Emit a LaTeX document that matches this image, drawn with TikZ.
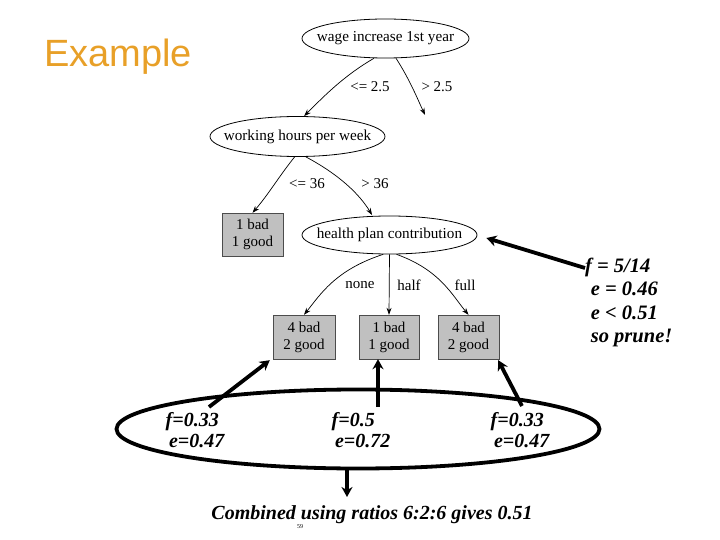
\documentclass[tikz,border=0pt]{standalone}
\usepackage{fontspec}
\setmainfont{Liberation Serif}
\newfontfamily\titlefont{Liberation Sans}
\usetikzlibrary{shapes.geometric,arrows.meta}
\definecolor{titleorange}{RGB}{232,160,40}
\definecolor{leafgray}{RGB}{192,192,192}
\begin{document}
\begin{tikzpicture}[x=1pt,y=-1pt,
  treenode/.style={ellipse,draw,line width=0.8pt,inner xsep=-14pt,inner ysep=0pt,font=\fontsize{15.2}{17}\selectfont},
  leaf/.style={rectangle,draw=black!70,fill=leafgray,thin,inner sep=0pt,align=center,font=\fontsize{15}{17}\selectfont},
  edge/.style={-{Stealth[length=7pt,width=5pt]},line width=0.7pt},
  elabel/.style={font=\fontsize{15}{17}\selectfont},
  note/.style={font=\fontsize{20}{21}\selectfont\bfseries\itshape},
  thick arrow/.style={line width=3.8pt,-{Stealth[length=10pt,width=11pt]}}]
\useasboundingbox (0,0) rectangle (720,540);
\node[anchor=base west,font=\titlefont\fontsize{38}{40}\selectfont,text=titleorange,inner sep=0pt] (title) at (44,67) {Example};

\node[treenode,minimum width=167pt,minimum height=39pt] (wage) at (385.5,38.5) {wage increase 1st year};
\node[treenode,minimum width=175pt,minimum height=40pt] (hours) at (297.5,136.5) {working hours per week};
\node[treenode,minimum width=175pt,minimum height=38pt] (health) at (389.5,235) {health plan contribution};
\node[leaf,minimum width=61pt,minimum height=43pt] (l1) at (252.5,234.5) {1 bad\\1 good};
\node[leaf,minimum width=62pt,minimum height=44pt] (l2) at (304,337) {4 bad\\2 good};
\node[leaf,minimum width=60pt,minimum height=44pt] (l3) at (389,337) {1 bad\\1 good};
\node[leaf,minimum width=61pt,minimum height=44pt] (l4) at (468.5,337) {4 bad\\2 good};
\coordinate (free) at (425,115);

\draw[edge] (wage.240) .. controls (345,75) and (325,95) .. (hours.72);
\draw[edge] (wage.298) .. controls (410,80) and (418,100) .. (free);
\draw[edge] (hours.262) .. controls (280,175) and (268,195) .. (l1.north);
\draw[edge] (hours.292) .. controls (340,175) and (360,195) .. (372,215);
\draw[edge] (health.252) .. controls (335,270) and (320,295) .. (l2.north);
\draw[edge] (health.south) -- (l3.north);
\draw[edge] (health.290) .. controls (440,270) and (452,295) .. (l4.north);

\node[elabel] (e1) at (370,87) {<= 2.5};
\node[elabel] (e2) at (437,87) {> 2.5};
\node[elabel] (e3) at (307,184) {<= 36};
\node[elabel] (e4) at (375,184) {> 36};
\node[elabel] (e5) at (360,285) {none};
\node[elabel] (e6) at (409,285) {half};
\node[elabel] (e7) at (465,285) {full};

\node[note,anchor=north west,align=left,inner sep=0pt,font=\fontsize{20.5}{23.3}\selectfont\bfseries\itshape] (prune) at (585,258) {f = 5/14\\\;e = 0.46\\\;e < 0.51\\\;so prune!};
\coordinate (pstart) at (585,268);
\draw[thick arrow] (pstart) -- ([xshift=9pt,yshift=-3pt]health.east);

\node[ellipse,draw,line width=3.8pt,minimum width=483pt,minimum height=79pt] (comb) at (358,429) {};
\node[note,align=left] (c1) at (195,430) {f=0.33\\\,e=0.47};
\node[note,align=left] (c2) at (361,430) {f=0.5\\\,e=0.72};
\node[note,align=left] (c3) at (520,430) {f=0.33\\\,e=0.47};
\coordinate (a1) at (209,407);
\coordinate (a2) at (378,407);
\coordinate (a3) at (522,406);
\draw[thick arrow] (a1) -- ([xshift=-3pt,yshift=-1pt]l2.south west);
\draw[thick arrow] (a2) -- (l3.south -| a2);
\draw[thick arrow] (a3) -- ([xshift=-1pt,yshift=-1pt]l4.south east);

\node[note] (res) at (372,515) {Combined using ratios 6:2:6 gives 0.51};
\draw[thick arrow] (comb.south -| 347,0) -- (347,497);
\node[font=\fontsize{6}{7}\selectfont] (pg) at (300,527) {59};
\end{tikzpicture}
\end{document}
